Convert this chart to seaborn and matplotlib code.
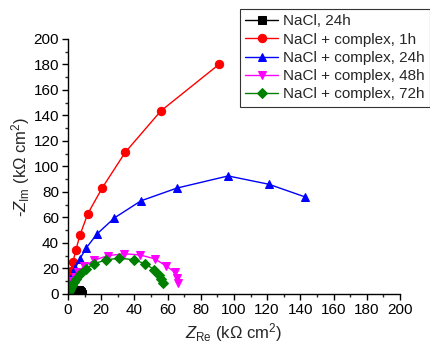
import matplotlib
matplotlib.use("Agg")
import matplotlib.pyplot as plt
import seaborn as sns
from matplotlib.ticker import MultipleLocator

# series (Z_Re, -Z_Im in kOhm cm2)
nacl_24_x = [0.3, 0.8, 1.5, 2.5, 3.5, 4.5, 5.5, 6.5, 7.2, 7.8, 8.1, 8.3]
nacl_24_y = [0.4, 1.0, 1.7, 2.3, 2.8, 3.1, 3.2, 3.0, 2.5, 1.8, 1.0, 0.3]

cplx_1_x = [0.2, 0.5, 1.0, 1.8, 3.0, 4.8, 7.2, 12.0, 20.6, 34.5, 56.0, 91.0]
cplx_1_y = [3.0, 7.0, 12.0, 18.0, 25.0, 34.5, 46.0, 63.0, 83.0, 111.0, 143.5, 180.0]

cplx_24_x = [0.3, 0.8, 1.5, 2.5, 4.2, 7.2, 11.0, 17.5, 28.0, 44.0, 65.7, 96.5, 121.0, 143.0]
cplx_24_y = [2.0, 5.0, 9.0, 14.0, 20.0, 27.5, 36.0, 47.0, 59.6, 73.0, 83.0, 92.5, 86.0, 76.0]

cplx_48_x = [0.3, 0.8, 1.5, 2.5, 4.0, 6.0, 9.5, 16.0, 24.0, 34.0, 43.6, 52.4, 59.0, 64.5, 66.0, 66.6]
cplx_48_y = [1.5, 4.0, 7.0, 10.0, 13.5, 17.0, 21.5, 26.5, 30.0, 31.5, 30.5, 27.5, 22.0, 17.0, 12.5, 8.5]

cplx_72_x = [0.3, 0.6, 1.0, 1.6, 2.4, 3.4, 4.8, 7.0, 10.6, 15.9, 22.8, 31.0, 39.8, 46.7, 52.0, 55.0, 56.0, 57.0]
cplx_72_y = [0.8, 2.0, 3.5, 5.2, 7.0, 9.2, 12.0, 15.5, 19.6, 23.7, 26.7, 28.0, 26.8, 23.5, 19.0, 14.9, 11.8, 8.6]

labels = ["NaCl, 24h", "NaCl + complex, 1h", "NaCl + complex, 24h",
          "NaCl + complex, 48h", "NaCl + complex, 72h"]
colors = ["black", "red", "blue", "magenta", "green"]
markers = ["s", "o", "^", "v", "D"]
xs = [nacl_24_x, cplx_1_x, cplx_24_x, cplx_48_x, cplx_72_x]
ys = [nacl_24_y, cplx_1_y, cplx_24_y, cplx_48_y, cplx_72_y]

sns.set_style("ticks")
plt.rcParams["font.family"] = ["Liberation Sans", "DejaVu Sans"]
plt.rcParams["mathtext.fontset"] = "custom"
plt.rcParams["mathtext.rm"] = "Liberation Sans"
plt.rcParams["mathtext.it"] = "Liberation Sans:italic"

fig = plt.figure(figsize=(4.3, 3.47), dpi=100)
ax = fig.add_axes([0.158, 0.153, 0.772, 0.735])

for x, y, lab, c, m in zip(xs, ys, labels, colors, markers):
    msize = 6 if m != "D" else 5.5
    sns.lineplot(x=x, y=y, sort=False, ax=ax, color=c, marker=m,
                 markersize=msize, markeredgecolor=c, linewidth=1,
                 label=lab, legend=False)

ax.set_xlim(0, 200)
ax.set_ylim(0, 200)
ax.xaxis.set_major_locator(MultipleLocator(20))
ax.yaxis.set_major_locator(MultipleLocator(20))
ax.xaxis.set_minor_locator(MultipleLocator(10))
ax.yaxis.set_minor_locator(MultipleLocator(10))
ax.tick_params(which="major", length=4, width=1, direction="out", labelsize=11, colors="black", pad=2.5)
ax.tick_params(which="minor", length=2.5, width=1, direction="out")
for s in ["top", "right"]:
    ax.spines[s].set_visible(False)
for s in ["left", "bottom"]:
    ax.spines[s].set_linewidth(1)
    ax.spines[s].set_color("black")

ax.set_xlabel(r"$Z_{\rm Re}$ (k$\Omega$ cm$^2$)", fontsize=12, labelpad=3)
ax.set_ylabel(r"-$Z_{\rm Im}$ (k$\Omega$ cm$^2$)", fontsize=12, labelpad=1)

handles, labs = ax.get_legend_handles_labels()
leg = fig.legend(handles, labs, loc="upper left", bbox_to_anchor=(0.557, 0.974),
                 fontsize=11, frameon=True, fancybox=False, edgecolor="black",
                 handlelength=2.2, labelspacing=0.28, borderpad=0.35,
                 handletextpad=0.3, borderaxespad=0)
leg.get_frame().set_linewidth(0.8)

fig.savefig("out.png", dpi=100)
